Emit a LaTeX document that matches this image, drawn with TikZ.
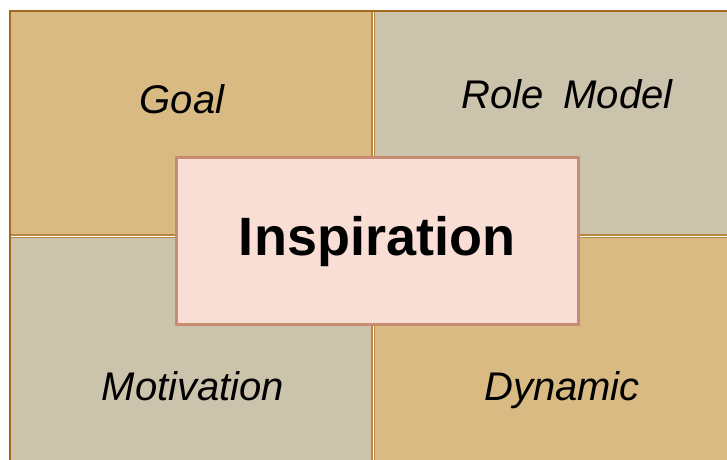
\documentclass[tikz,border=0pt]{standalone}
\usepackage{fontspec}
\setmainfont{Liberation Sans}
\definecolor{tanfill}{HTML}{D9BA83}
\definecolor{greyfill}{HTML}{CCC3AD}
\definecolor{quadline}{HTML}{B8873F}
\definecolor{edgeline}{HTML}{A3691E}
\definecolor{boxfill}{HTML}{F8DED4}
\definecolor{boxline}{HTML}{C68B70}
\tikzset{
  tanquad/.style={fill=tanfill, draw=quadline, line width=1.5pt},
  greyquad/.style={fill=greyfill, draw=quadline, line width=1.5pt},
  quadlabel/.style={anchor=base, font=\fontsize{40}{42}\selectfont\itshape},
  mainbox/.style={fill=boxfill, draw=boxline, line width=3pt, minimum width=402pt,
    minimum height=167pt, inner sep=0pt},
}
\begin{document}
\begin{tikzpicture}[x=1pt,y=-1pt]
  \clip (0,0) rectangle (727,459);
  \fill[white] (0,0) rectangle (727,459);
  % quadrants
  \draw[tanquad] (9.5,10.5) rectangle (372,235);
  \draw[greyquad] (374.5,10.5) rectangle (740,235);
  \draw[greyquad] (9.5,237.5) rectangle (372,470);
  \draw[tanquad] (374.5,237.5) rectangle (740,470);
  \draw[edgeline, line width=2pt] (9.5,470) -- (9.5,10.5) -- (740,10.5);
  % labels
  \node[quadlabel] (goal) at (182,113) {Goal};
  \node[quadlabel] (role) at (567,108) {Role\hspace{0.5em}Model};
  \node[quadlabel] (motiv) at (193,400) {Motivation};
  \node[quadlabel] (dyn) at (562,400) {Dynamic};
  % centre
  \node[mainbox] (insp) at (377,240.5) {};
  \node[anchor=base, font=\fontsize{54}{56}\selectfont\bfseries] (insptext) at (377,255) {Inspiration};
\end{tikzpicture}
\end{document}
